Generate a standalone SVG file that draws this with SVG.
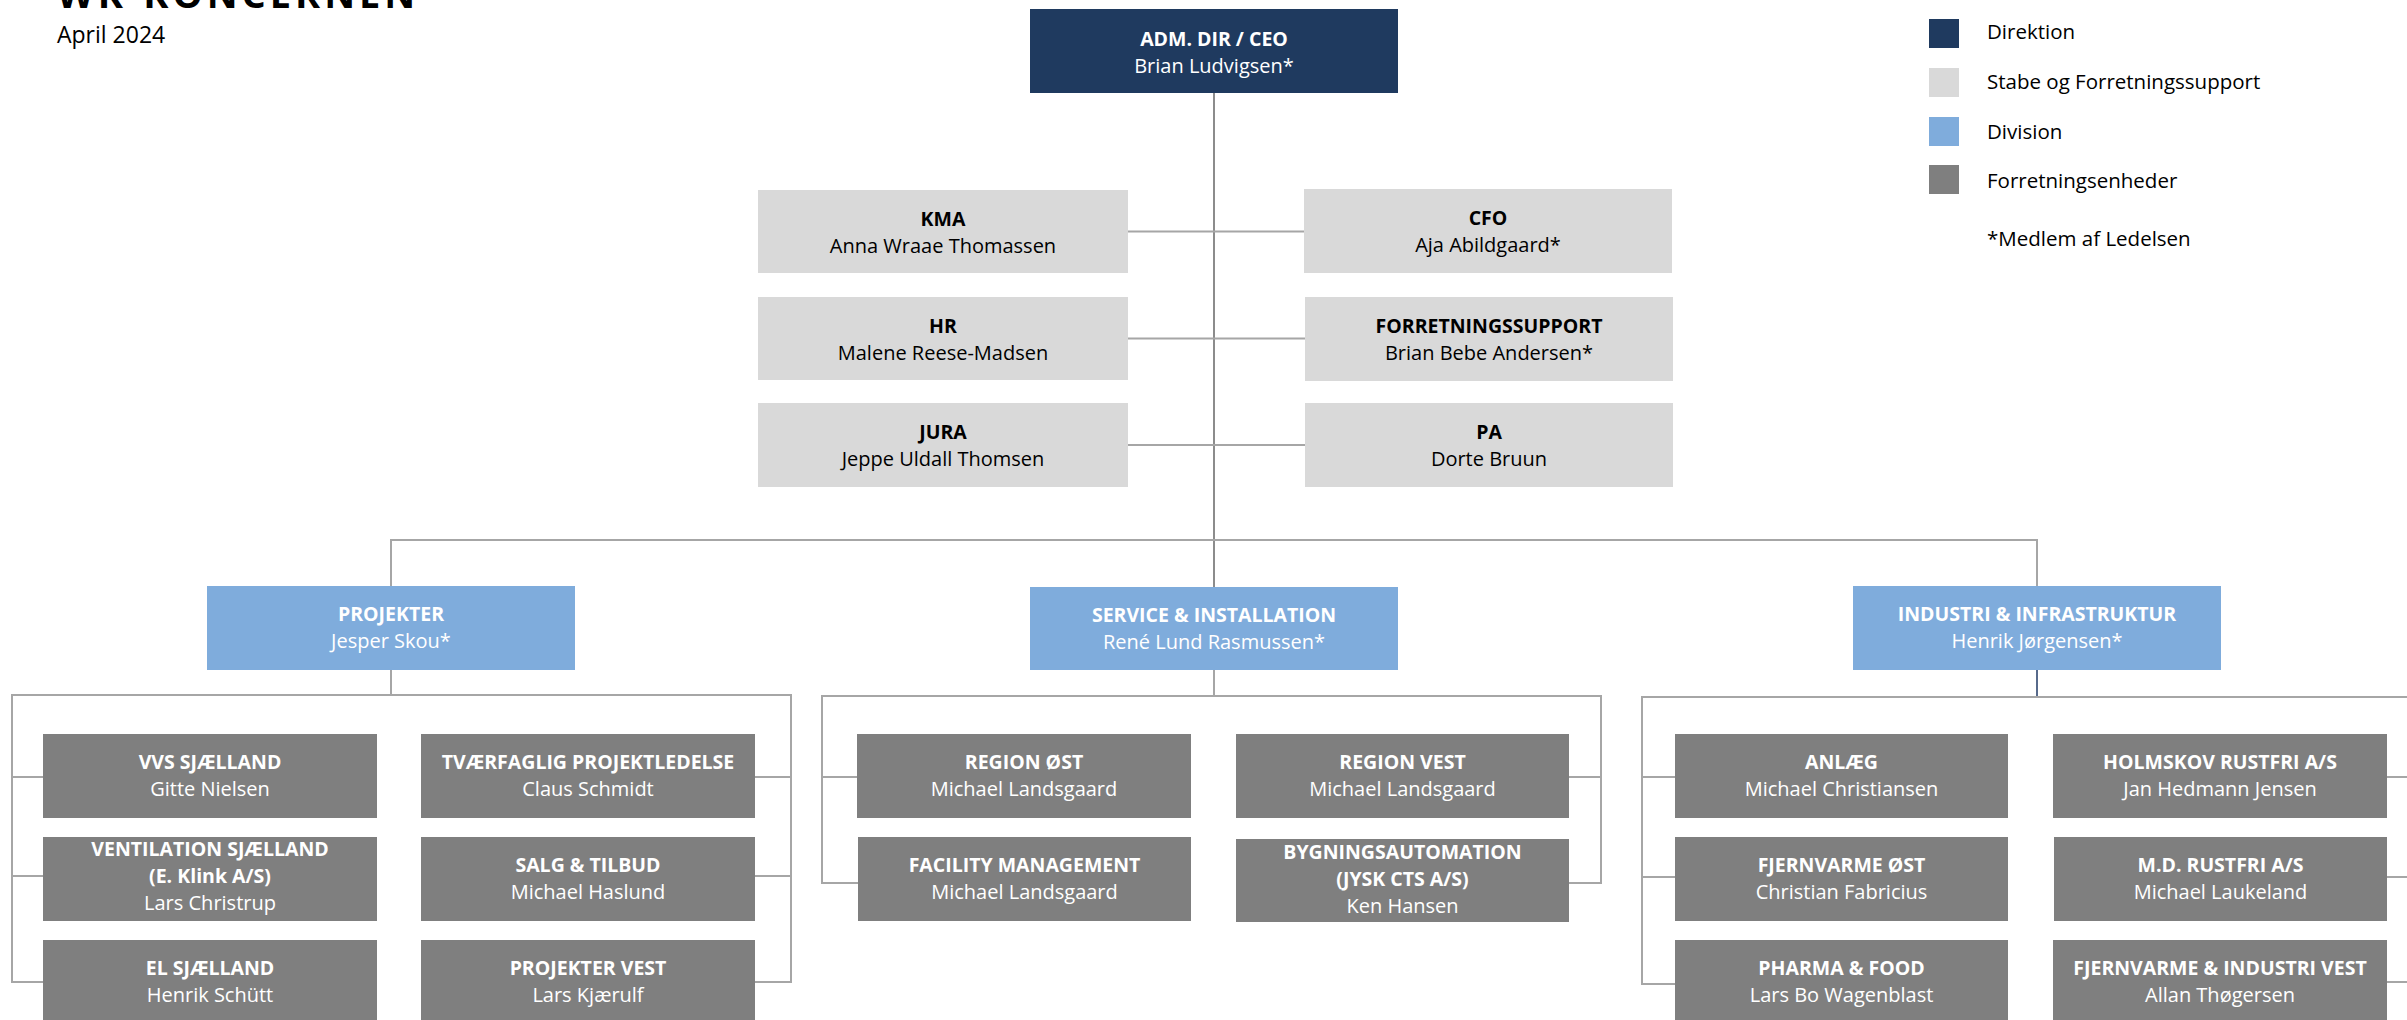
<svg xmlns="http://www.w3.org/2000/svg" width="2407" height="1020" viewBox="0 0 2407 1020">
<style>
text{font-family:"Open Sans","Noto Sans","Liberation Sans",sans-serif;text-anchor:middle}
.t{font-size:19.5px;font-weight:700}
.n{font-size:20px}
.dk text{fill:#000}
.lt text{fill:#fff}
.ceo{fill:#1F3A5F}
.staff{fill:#D9D9D9}
.div{fill:#7FACDC}
.unit{fill:#7F7F7F}
.ln{stroke:#A6A6A6;stroke-width:2;fill:none}
.trunk{stroke:#8C8C8C;stroke-width:2;fill:none}
.leg{font-size:20.5px;text-anchor:start;fill:#000}
</style>

<text x="57" y="8" style="font-size:38px;font-weight:700;text-anchor:start;letter-spacing:4px" fill="#000">WK-KONCERNEN</text>
<text x="57" y="43" style="font-size:23px;text-anchor:start" fill="#000">April 2024</text>

<g id="legend">
<rect x="1929" y="19" width="30" height="29" class="ceo"/>
<rect x="1929" y="68" width="30" height="29" class="staff"/>
<rect x="1929" y="117" width="30" height="29" class="div"/>
<rect x="1929" y="165" width="30" height="29" class="unit"/>
<text class="leg" x="1987" y="39">Direktion</text>
<text class="leg" x="1987" y="89">Stabe og Forretningssupport</text>
<text class="leg" x="1987" y="139">Division</text>
<text class="leg" x="1987" y="188">Forretningsenheder</text>
<text class="leg" x="1987" y="246">*Medlem af Ledelsen</text>
</g>

<g id="connectors">
<path class="trunk" d="M1214 92V587"/>
<path class="ln" d="M1128 231.5H1304M1128 338.5H1305M1128 445H1305"/>
<path class="ln" d="M391 586V540H2037V586"/>
<path class="ln" d="M391 670V695M43 777H12V695H791V777H755M43 876H12M12 777V982H43M755 876H791M791 777V982H755"/>
<path class="ln" d="M1214 670V696M857 777H822V696H1601V777H1569M822 777V883H858M1569 883H1601V777"/>
<path d="M2037 670V697" stroke="#1F3864" stroke-width="1.5" fill="none"/>
<path class="ln" d="M1675 777H1642V697H2407M1642 777V984H1675M1642 877H1675M2387 777H2407M2387 877H2407M2387 982H2407"/>
</g>

<g id="ceo" class="lt"><rect class="ceo" x="1030" y="9" width="368" height="84"/><text class="t" x="1214" y="46">ADM. DIR / CEO</text><text class="n" x="1214" y="73">Brian Ludvigsen*</text></g>

<g id="kma" class="dk"><rect class="staff" x="758" y="190" width="370" height="83"/><text class="t" x="943" y="226">KMA</text><text class="n" x="943" y="253">Anna Wraae Thomassen</text></g>
<g id="hr" class="dk"><rect class="staff" x="758" y="297" width="370" height="83"/><text class="t" x="943" y="333">HR</text><text class="n" x="943" y="360">Malene Reese-Madsen</text></g>
<g id="jura" class="dk"><rect class="staff" x="758" y="403" width="370" height="84"/><text class="t" x="943" y="439">JURA</text><text class="n" x="943" y="466">Jeppe Uldall Thomsen</text></g>
<g id="cfo" class="dk"><rect class="staff" x="1304" y="189" width="368" height="84"/><text class="t" x="1488" y="225">CFO</text><text class="n" x="1488" y="252">Aja Abildgaard*</text></g>
<g id="forretningssupport" class="dk"><rect class="staff" x="1305" y="297" width="368" height="84"/><text class="t" x="1489" y="333">FORRETNINGSSUPPORT</text><text class="n" x="1489" y="360">Brian Bebe Andersen*</text></g>
<g id="pa" class="dk"><rect class="staff" x="1305" y="403" width="368" height="84"/><text class="t" x="1489" y="439">PA</text><text class="n" x="1489" y="466">Dorte Bruun</text></g>

<g id="projekter" class="lt"><rect class="div" x="207" y="586" width="368" height="84"/><text class="t" x="391" y="621">PROJEKTER</text><text class="n" x="391" y="648">Jesper Skou*</text></g>
<g id="service" class="lt"><rect class="div" x="1030" y="587" width="368" height="83"/><text class="t" x="1214" y="622">SERVICE &amp; INSTALLATION</text><text class="n" x="1214" y="649">René Lund Rasmussen*</text></g>
<g id="industri" class="lt"><rect class="div" x="1853" y="586" width="368" height="84"/><text class="t" x="2037" y="621">INDUSTRI &amp; INFRASTRUKTUR</text><text class="n" x="2037" y="648">Henrik Jørgensen*</text></g>

<g id="vvs" class="lt"><rect class="unit" x="43" y="734" width="334" height="84"/><text class="t" x="210" y="769">VVS SJÆLLAND</text><text class="n" x="210" y="796">Gitte Nielsen</text></g>
<g id="ventilation" class="lt"><rect class="unit" x="43" y="837" width="334" height="84"/><text class="t" x="210" y="856">VENTILATION SJÆLLAND</text><text class="t" x="210" y="883">(E. Klink A/S)</text><text class="n" x="210" y="910">Lars Christrup</text></g>
<g id="el" class="lt"><rect class="unit" x="43" y="940" width="334" height="84"/><text class="t" x="210" y="975">EL SJÆLLAND</text><text class="n" x="210" y="1002">Henrik Schütt</text></g>
<g id="tvaerfaglig" class="lt"><rect class="unit" x="421" y="734" width="334" height="84"/><text class="t" x="588" y="769">TVÆRFAGLIG PROJEKTLEDELSE</text><text class="n" x="588" y="796">Claus Schmidt</text></g>
<g id="salg" class="lt"><rect class="unit" x="421" y="837" width="334" height="84"/><text class="t" x="588" y="872">SALG &amp; TILBUD</text><text class="n" x="588" y="899">Michael Haslund</text></g>
<g id="projektervest" class="lt"><rect class="unit" x="421" y="940" width="334" height="84"/><text class="t" x="588" y="975">PROJEKTER VEST</text><text class="n" x="588" y="1002">Lars Kjærulf</text></g>

<g id="regionost" class="lt"><rect class="unit" x="857" y="734" width="334" height="84"/><text class="t" x="1024" y="769">REGION ØST</text><text class="n" x="1024" y="796">Michael Landsgaard</text></g>
<g id="facility" class="lt"><rect class="unit" x="858" y="837" width="333" height="84"/><text class="t" x="1024.5" y="872">FACILITY MANAGEMENT</text><text class="n" x="1024.5" y="899">Michael Landsgaard</text></g>
<g id="regionvest" class="lt"><rect class="unit" x="1236" y="734" width="333" height="84"/><text class="t" x="1402.5" y="769">REGION VEST</text><text class="n" x="1402.5" y="796">Michael Landsgaard</text></g>
<g id="bygningsautomation" class="lt"><rect class="unit" x="1236" y="839" width="333" height="83"/><text class="t" x="1402.5" y="859">BYGNINGSAUTOMATION</text><text class="t" x="1402.5" y="886">(JYSK CTS A/S)</text><text class="n" x="1402.5" y="913">Ken Hansen</text></g>

<g id="anlaeg" class="lt"><rect class="unit" x="1675" y="734" width="333" height="84"/><text class="t" x="1841.5" y="769">ANLÆG</text><text class="n" x="1841.5" y="796">Michael Christiansen</text></g>
<g id="fjernvarmeost" class="lt"><rect class="unit" x="1675" y="837" width="333" height="84"/><text class="t" x="1841.5" y="872">FJERNVARME ØST</text><text class="n" x="1841.5" y="899">Christian Fabricius</text></g>
<g id="pharma" class="lt"><rect class="unit" x="1675" y="940" width="333" height="84"/><text class="t" x="1841.5" y="975">PHARMA &amp; FOOD</text><text class="n" x="1841.5" y="1002">Lars Bo Wagenblast</text></g>
<g id="holmskov" class="lt"><rect class="unit" x="2053" y="734" width="334" height="84"/><text class="t" x="2220" y="769">HOLMSKOV RUSTFRI A/S</text><text class="n" x="2220" y="796">Jan Hedmann Jensen</text></g>
<g id="mdrustfri" class="lt"><rect class="unit" x="2054" y="837" width="333" height="84"/><text class="t" x="2220.5" y="872">M.D. RUSTFRI A/S</text><text class="n" x="2220.5" y="899">Michael Laukeland</text></g>
<g id="fjernvarmevest" class="lt"><rect class="unit" x="2053" y="940" width="334" height="84"/><text class="t" x="2220" y="975">FJERNVARME &amp; INDUSTRI VEST</text><text class="n" x="2220" y="1002">Allan Thøgersen</text></g>
</svg>
